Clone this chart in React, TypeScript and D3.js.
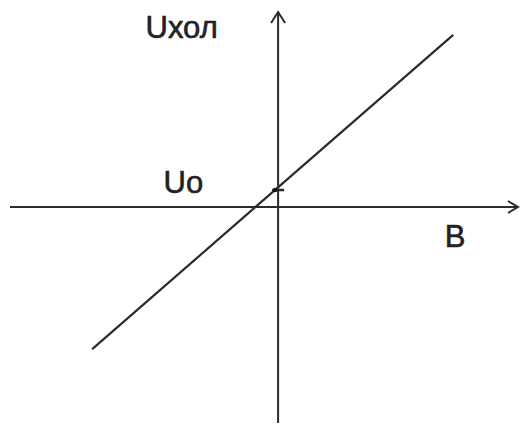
import React from 'react';
import * as d3 from 'd3';

// extents of the two axes, in chart units (B across, Uхол up)
const xExtent = [-4.47, 4.0];
const yExtent = [-3.6, 3.25];

// the straight line Uхол(B), its two ends
const lineB = [-3.1, 2.92];
const lineU = [-2.37, 2.87];

// intercept U0 on the vertical axis
const u0 = 0.3;

const labels = [
  { text: 'Uхол', b: -2.21, u: 2.82 },
  { text: 'Uo', b: -1.91, u: 0.23 },
  { text: 'B', b: 2.78, u: -0.67 },
];

const W = 520;
const H = 426;

const App = () => {
  const x = d3.scaleLinear().domain(xExtent).range([10, 518]);
  const y = d3.scaleLinear().domain(yExtent).range([423, 12]);

  const pts = lineB.map((b, i) => [x(b), y(lineU[i])] as [number, number]);
  const path = d3.line()(pts);

  const x0 = x(0);
  const y0 = y(0);
  const stroke = '#2b2b2b';

  return (
    <svg
      width={W}
      height={H}
      style={{ position: 'absolute', left: 0, top: 0, background: '#fff' }}
      fontFamily="'Liberation Sans', Arial, sans-serif"
    >
      {/* horizontal axis with arrow */}
      <line x1={x(xExtent[0])} y1={y0} x2={x(xExtent[1])} y2={y0} stroke={stroke} strokeWidth={2} />
      <polyline
        points={`${x(xExtent[1]) - 10},${y0 - 6} ${x(xExtent[1])},${y0} ${x(xExtent[1]) - 10},${y0 + 6}`}
        fill="none"
        stroke={stroke}
        strokeWidth={2}
      />
      {/* vertical axis with arrow */}
      <line x1={x0} y1={y(yExtent[0])} x2={x0} y2={y(yExtent[1])} stroke={stroke} strokeWidth={2} />
      <polyline
        points={`${x0 - 7},${y(yExtent[1]) + 11} ${x0},${y(yExtent[1])} ${x0 + 7},${y(yExtent[1]) + 11}`}
        fill="none"
        stroke={stroke}
        strokeWidth={2}
      />
      {/* the line */}
      <path d={path || ''} fill="none" stroke={stroke} strokeWidth={2.2} />
      {/* U0 mark */}
      <line x1={x0 - 6} y1={y(u0) + 1} x2={x0 + 6} y2={y(u0) + 1} stroke={stroke} strokeWidth={2.5} />
      <circle cx={x0 - 3} cy={y(u0) + 1} r={2.2} fill="#111" />
      {labels.map((l) => (
        <text key={l.text} x={x(l.b)} y={y(l.u)} fontSize={31} fill="#222" stroke="#222" strokeWidth={0.6}>
          {l.text}
        </text>
      ))}
    </svg>
  );
};

export default App;
